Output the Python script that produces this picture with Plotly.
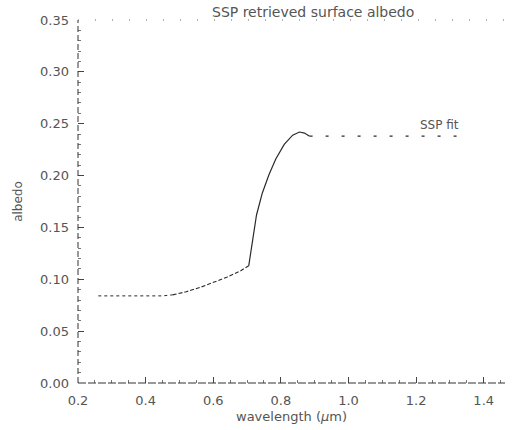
import plotly.graph_objects as go

# Retrieved surface albedo spectrum
wavelength = [0.26, 0.30, 0.35, 0.40, 0.45, 0.48, 0.52, 0.56, 0.60, 0.64, 0.68, 0.705,
              0.712, 0.718, 0.728, 0.745, 0.765, 0.785, 0.81, 0.835, 0.855, 0.87, 0.885,
              0.90, 0.95, 1.00, 1.05, 1.10, 1.15, 1.20, 1.25, 1.30, 1.32]
albedo = [0.084, 0.084, 0.084, 0.084, 0.084, 0.085, 0.088, 0.092, 0.097, 0.102, 0.108, 0.113,
          0.128, 0.145, 0.162, 0.183, 0.201, 0.216, 0.230, 0.239, 0.242, 0.241, 0.238,
          0.238, 0.238, 0.238, 0.238, 0.238, 0.238, 0.238, 0.238, 0.238, 0.238]

x_ticks = [0.2, 0.4, 0.6, 0.8, 1.0, 1.2, 1.4]
y_ticks = [0.00, 0.05, 0.10, 0.15, 0.20, 0.25, 0.30, 0.35]

ink = "#2a2a2a"
txt = "#555555"
font = "DejaVu Sans"

fig = go.Figure()

# segments of the same curve with different line styles
segments = [
    (0, 6, "dot", 1.0),
    (5, 12, "4px,2px", 1.1),
    (11, 23, "solid", 1.2),
    (22, len(wavelength), "3px,13px", 1.2),
]
for a, b, dash, w in segments:
    fig.add_trace(go.Scatter(
        x=wavelength[a:b], y=albedo[a:b], mode="lines",
        line=dict(color=ink, width=w, dash=dash),
        hoverinfo="skip", showlegend=False))

axis_common = dict(
    showgrid=False, zeroline=False, showline=False,
    ticks="inside", ticklen=6, tickwidth=1, tickcolor="#444",
    tickfont=dict(family=font, size=13, color=txt),
    minor=dict(ticks="inside", ticklen=3, tickcolor="#777", tickwidth=1),
)

fig.update_layout(
    width=513, height=430,
    margin=dict(l=78, r=8, t=20, b=47),
    paper_bgcolor="white", plot_bgcolor="white",
    xaxis=dict(range=[0.2, 1.463], tickvals=x_ticks,
               ticktext=[f"{v:.1f}" for v in x_ticks],
               ticklabelstandoff=8,
               title=dict(text="wavelength (<i>μ</i>m)", standoff=4,
                          font=dict(family=font, size=13, color=txt)),
               minor_dtick=0.05, **axis_common),
    yaxis=dict(range=[0, 0.35], tickvals=y_ticks,
               ticktext=[f"{v:.2f}" for v in y_ticks],
               ticklabelstandoff=8,
               title=dict(text="albedo", standoff=14,
                          font=dict(family=font, size=12, color=txt)),
               minor_dtick=0.01, **axis_common),
    font=dict(family=font, color=txt),
)

# plot frame: broken left/bottom axes, faint dotted top
fig.add_shape(type="line", xref="paper", yref="paper", x0=0, x1=0, y0=0, y1=1,
              line=dict(color="#333", width=1, dash="6px,3px"))
fig.add_shape(type="line", xref="paper", yref="paper", x0=0, x1=1, y0=0, y1=0,
              line=dict(color="#333", width=1, dash="8px,2px"))
fig.add_shape(type="line", xref="paper", yref="paper", x0=0, x1=1, y0=1, y1=1,
              line=dict(color="#666", width=1, dash="1px,16px"))

fig.add_annotation(text="SSP retrieved surface albedo", xref="paper", yref="paper",
                   x=0.55, y=1.0, yshift=8, xanchor="center", yanchor="middle",
                   showarrow=False, font=dict(family=font, size=14, color=txt))
fig.add_annotation(text="SSP fit", x=1.268, y=0.249, showarrow=False,
                   font=dict(family=font, size=12, color=txt))

fig.write_html("out.html")
